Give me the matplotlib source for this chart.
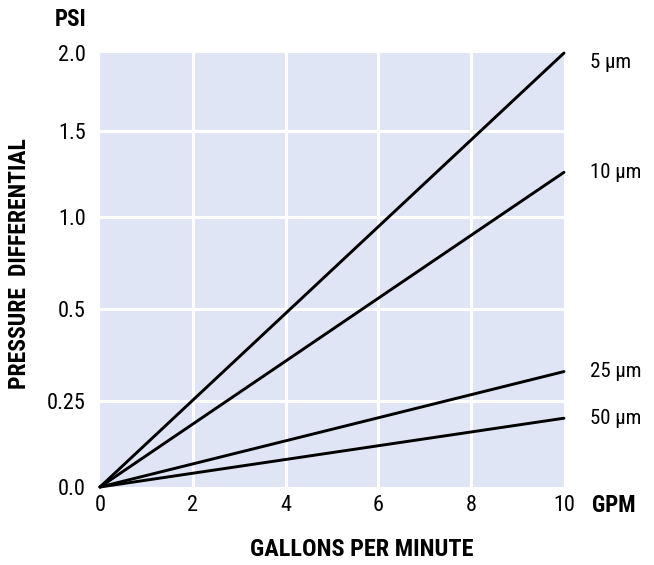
import numpy as np
import matplotlib
matplotlib.use("Agg")
import matplotlib.pyplot as plt
from matplotlib import font_manager

# condensed face if we have one
names = {f.name for f in font_manager.fontManager.ttflist}
fam = [n for n in ["Liberation Sans Narrow", "Roboto Condensed", "DejaVu Sans"] if n in names]
plt.rcParams["font.family"] = fam + ["DejaVu Sans"]

# data
gpm = [0, 10]
series = ["5 µm", "10 µm", "25 µm", "50 µm"]
psi_5 = [0, 2.0]
psi_10 = [0, 1.26]
psi_25 = [0, 0.33]
psi_50 = [0, 0.20]
y_ticks = [0.0, 0.25, 0.5, 1.0, 1.5, 2.0]
y_tick_labels = ["0.0", "0.25", "0.5", "1.0", "1.5", "2.0"]
x_ticks = [0, 2, 4, 6, 8, 10]

# the PSI axis is not evenly spaced in the original; tick heights (px from bottom)
tick_pos = np.array([0, 86, 178, 270, 356, 434], dtype=float)

def fwd(v):
    return np.interp(v, y_ticks, tick_pos)

def inv(p):
    return np.interp(p, tick_pos, y_ticks)

bg = "#dfe5f4"

fig = plt.figure(figsize=(6.54, 5.65), dpi=100)
ax = fig.add_axes([100 / 654, 78 / 565, 464 / 654, 434 / 565])
ax.set_facecolor(bg)
ax.set_yscale("function", functions=(fwd, inv))
ax.set_xlim(0, 10)
ax.set_ylim(0, 2.0)

for x in x_ticks[1:-1]:
    ax.axvline(x, color="white", lw=2.2, zorder=1)
for y in y_ticks[1:-1]:
    ax.axhline(y, color="white", lw=2.2, zorder=1)

all_y = [psi_5, psi_10, psi_25, psi_50]
for name, ys in zip(series, all_y):
    ax.plot(gpm, ys, color="black", lw=2.1, zorder=3, clip_on=False,
            solid_capstyle="round")
    dy = -7 if ys[-1] >= 2.0 else 0
    ax.annotate(name, xy=(gpm[-1], ys[-1]), xytext=(19, dy),
                textcoords="offset points", va="center", ha="left",
                fontsize=15)

for s in ax.spines.values():
    s.set_visible(False)

ax.set_xticks(x_ticks)
ax.set_xticklabels([str(x) for x in x_ticks], fontsize=16)
ax.set_yticks(y_ticks)
ax.set_yticklabels(y_tick_labels, fontsize=16)
ax.yaxis.set_minor_locator(matplotlib.ticker.NullLocator())
ax.tick_params(length=0)
ax.tick_params(axis="y", pad=10)
ax.tick_params(axis="x", pad=6)

fig.text(592 / 654, 1 - 505 / 565, "GPM", fontsize=16.5, fontweight="bold",
         va="center", ha="left")
fig.text(71 / 654, 1 - 19 / 565, "PSI", fontsize=16.5, fontweight="bold",
         va="center", ha="center")
fig.text(20 / 654, 1 - 264 / 565, "PRESSURE  DIFFERENTIAL", fontsize=17,
         fontweight="bold", rotation=90, va="center", ha="center")
fig.text(362 / 654, 1 - 550 / 565, "GALLONS PER MINUTE", fontsize=17.5,
         fontweight="bold", va="center", ha="center")

fig.savefig("out.png", dpi=100, facecolor="white")
